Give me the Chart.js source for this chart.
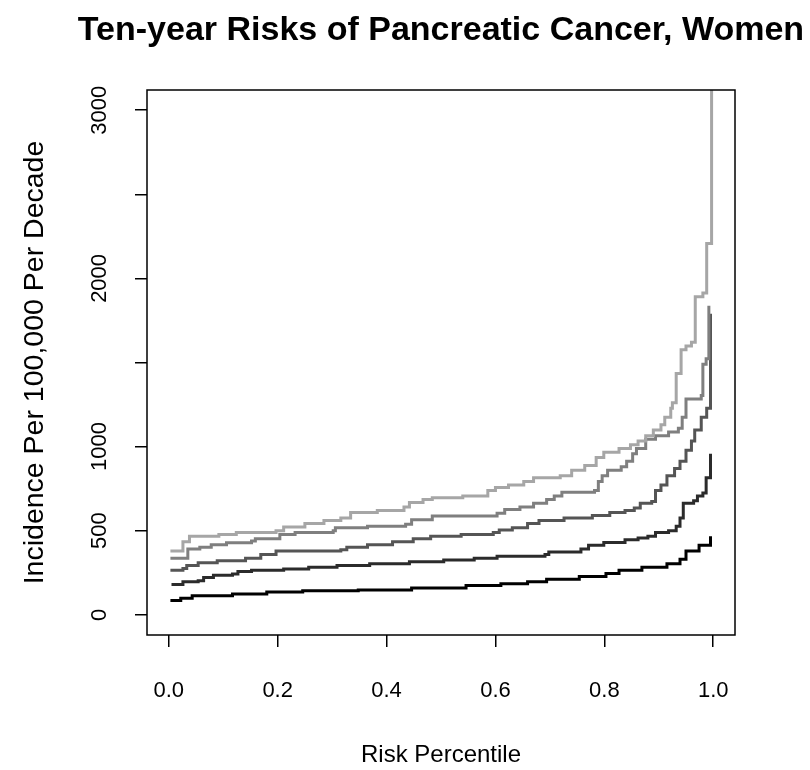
<!DOCTYPE html>
<html>
<head>
<meta charset="utf-8">
<script src="https://cdn.jsdelivr.net/npm/chart.js@4/dist/chart.umd.min.js"></script>
<style>
  html, body { margin: 0; padding: 0; background: #ffffff; }
  canvas { display: block; }
</style>
</head>
<body>
<canvas id="c" width="810" height="770"></canvas>
<script>
// ---- Data ----
const titleText = "Ten-year Risks of Pancreatic Cancer, Women";
const xTitle = "Risk Percentile";
const yTitle = "Incidence Per 100,000 Per Decade";

const xTicks = [0.0, 0.2, 0.4, 0.6, 0.8, 1.0];
const xTickLabels = ["0.0", "0.2", "0.4", "0.6", "0.8", "1.0"];
const yTicks = [0, 500, 1000, 1500, 2000, 2500, 3000];
const yTickLabels = ["0", "500", "1000", "", "2000", "", "3000"];

const seriesColors = ["#000000", "#2b2b2b", "#555555", "#7f7f7f", "#a6a6a6"];

const x1 = [0.003, 0.022, 0.043, 0.117, 0.180, 0.246, 0.348, 0.446, 0.546, 0.610, 0.659, 0.694, 0.754, 0.803, 0.827, 0.869, 0.915, 0.939, 0.950, 0.974, 0.995];
const y1 = [85, 98, 113, 124, 135, 143, 148, 159, 174, 185, 196, 211, 228, 246, 265, 283, 304, 330, 380, 413, 467];

const x2 = [0.005, 0.026, 0.054, 0.064, 0.082, 0.117, 0.127, 0.152, 0.211, 0.257, 0.309, 0.369, 0.442, 0.505, 0.561, 0.603, 0.691, 0.698, 0.757, 0.771, 0.799, 0.838, 0.862, 0.880, 0.894, 0.918, 0.932, 0.939, 0.945, 0.964, 0.971, 0.981, 0.987, 0.995];
const y2 = [180, 196, 202, 222, 235, 243, 257, 265, 272, 283, 293, 304, 315, 326, 337, 348, 359, 374, 391, 413, 430, 446, 457, 467, 489, 500, 526, 576, 663, 678, 707, 724, 815, 957];

const x3 = [0.003, 0.026, 0.033, 0.054, 0.089, 0.141, 0.169, 0.197, 0.316, 0.327, 0.365, 0.411, 0.449, 0.481, 0.537, 0.596, 0.607, 0.631, 0.659, 0.680, 0.726, 0.778, 0.810, 0.838, 0.855, 0.866, 0.887, 0.894, 0.904, 0.915, 0.929, 0.939, 0.950, 0.960, 0.966, 0.978, 0.988, 0.995];
const y3 = [265, 276, 293, 309, 322, 337, 359, 380, 387, 402, 417, 435, 452, 467, 478, 489, 504, 517, 543, 561, 576, 591, 609, 620, 635, 663, 674, 739, 772, 826, 870, 913, 978, 1033, 1098, 1174, 1228, 1790];

const x4 = [0.003, 0.035, 0.057, 0.078, 0.106, 0.152, 0.159, 0.204, 0.232, 0.302, 0.306, 0.365, 0.435, 0.446, 0.484, 0.603, 0.617, 0.645, 0.670, 0.694, 0.708, 0.722, 0.782, 0.789, 0.796, 0.806, 0.831, 0.841, 0.852, 0.859, 0.876, 0.894, 0.918, 0.936, 0.943, 0.950, 0.978, 0.981, 0.987, 0.992];
const y4 = [337, 391, 402, 417, 428, 439, 452, 478, 489, 500, 517, 526, 539, 565, 587, 604, 626, 641, 663, 685, 707, 728, 739, 793, 826, 859, 880, 913, 957, 989, 1043, 1065, 1087, 1109, 1174, 1283, 1304, 1489, 1522, 1837];

const x5 = [0.003, 0.026, 0.038, 0.092, 0.124, 0.197, 0.211, 0.250, 0.285, 0.316, 0.334, 0.383, 0.432, 0.442, 0.467, 0.484, 0.540, 0.586, 0.600, 0.624, 0.652, 0.670, 0.719, 0.740, 0.764, 0.785, 0.799, 0.827, 0.848, 0.862, 0.876, 0.890, 0.904, 0.911, 0.922, 0.925, 0.932, 0.941, 0.950, 0.960, 0.967, 0.981, 0.988, 0.997];
const y5 = [380, 435, 467, 478, 489, 500, 522, 543, 561, 576, 609, 620, 641, 667, 685, 696, 707, 739, 757, 772, 793, 815, 826, 859, 887, 935, 967, 989, 1011, 1033, 1065, 1098, 1130, 1174, 1228, 1261, 1435, 1576, 1598, 1620, 1891, 1913, 2207, 3400];

const seriesX = [x1, x2, x3, x4, x5];
const seriesY = [y1, y2, y3, y4, y5];

// ---- Chart ----
const FONT = "Arial, 'Liberation Sans', Helvetica, sans-serif";

// Plot box around the chart area, and the main title centred over the plot region.
const boxPlugin = {
  id: 'plotBox',
  afterDraw(chart) {
    const a = chart.chartArea;
    const ctx = chart.ctx;
    ctx.save();
    ctx.strokeStyle = '#000';
    ctx.lineWidth = 1.5;
    ctx.strokeRect(a.left, a.top, a.right - a.left, a.bottom - a.top);
    ctx.fillStyle = '#000';
    ctx.font = "bold 34px " + FONT;
    ctx.textAlign = 'center';
    ctx.textBaseline = 'alphabetic';
    ctx.fillText(titleText, (a.left + a.right) / 2, 40);
    ctx.restore();
  }
};

const datasets = seriesX.map((xs, k) => ({
  data: xs.map((x, i) => ({ x: x, y: seriesY[k][i] })),
  borderColor: seriesColors[k],
  backgroundColor: seriesColors[k],
  borderWidth: 3,
  pointRadius: 0,
  stepped: 'before',
  fill: false,
  clip: 0,
  borderJoinStyle: 'miter',
  borderCapStyle: 'butt',
  order: 5 - k
}));

new Chart(document.getElementById('c'), {
  type: 'line',
  data: { datasets: datasets },
  plugins: [boxPlugin],
  options: {
    responsive: false,
    animation: false,
    events: [],
    layout: { padding: { left: 0, right: 75, top: 90, bottom: 0 } },
    plugins: {
      legend: { display: false },
      tooltip: { enabled: false },
      title: { display: false }
    },
    scales: {
      x: {
        type: 'linear',
        min: -0.04,
        max: 1.04,
        afterBuildTicks: (s) => { s.ticks = xTicks.map(v => ({ value: v })); },
        afterFit: (s) => { s.height = 135; },
        border: { display: false },
        grid: { drawOnChartArea: false, drawTicks: true, tickLength: 12, color: '#000', lineWidth: 1.5 },
        ticks: {
          color: '#000',
          padding: 31,
          maxRotation: 0,
          minRotation: 0,
          font: { family: FONT, size: 22 },
          callback: (v) => { const i = xTicks.indexOf(v); return i >= 0 ? xTickLabels[i] : ''; }
        },
        title: {
          display: true,
          text: xTitle,
          color: '#000',
          font: { family: FONT, size: 24 },
          padding: { top: 0, bottom: 0 }
        }
      },
      y: {
        type: 'linear',
        min: -120,
        max: 3120,
        afterBuildTicks: (s) => { s.ticks = yTicks.map(v => ({ value: v })); },
        afterFit: (s) => { s.width = 147; },
        border: { display: false },
        grid: { drawOnChartArea: false, drawTicks: true, tickLength: 12, color: '#000', lineWidth: 1.5 },
        ticks: {
          color: '#000',
          padding: 10.5,
          minRotation: 90,
          maxRotation: 90,
          crossAlign: 'center',
          font: { family: FONT, size: 22 },
          callback: (v) => { const i = yTicks.indexOf(v); return i >= 0 ? yTickLabels[i] : ''; }
        },
        title: {
          display: true,
          text: yTitle,
          color: '#000',
          font: { family: FONT, size: 28.5 },
          padding: { top: 18, bottom: 0 }
        }
      }
    }
  }
});
</script>
</body>
</html>
